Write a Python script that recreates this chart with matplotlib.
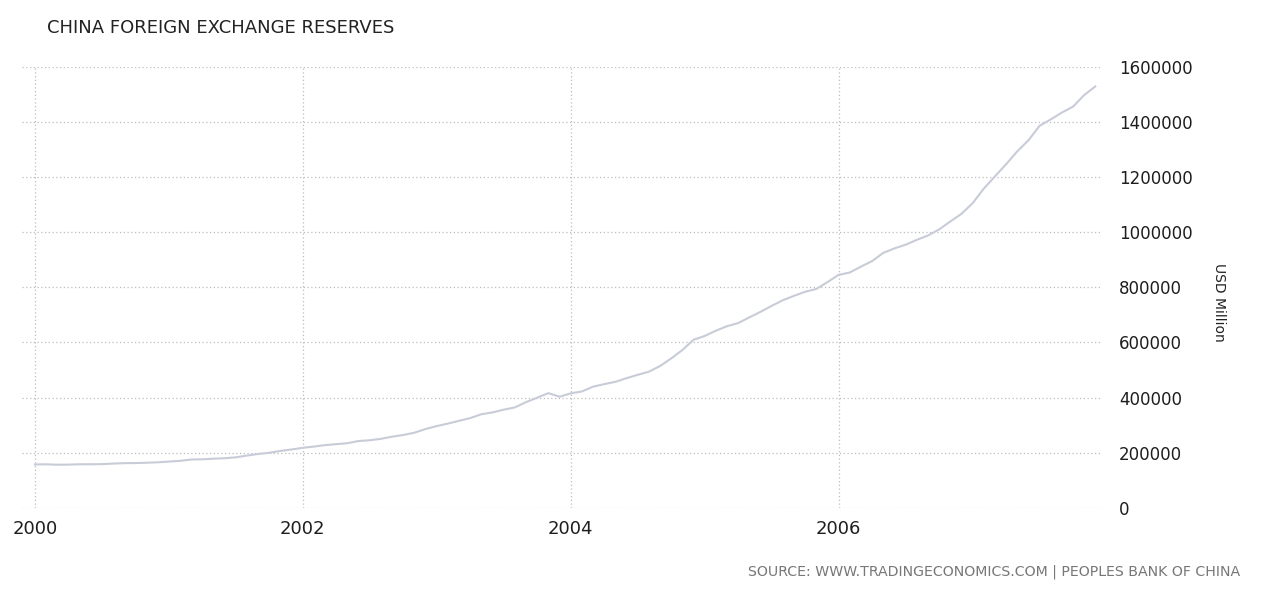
import numpy as np
import matplotlib
matplotlib.use("Agg")
import matplotlib.pyplot as plt

# monthly reserves, USD million, Jan 2000 .. Dec 2007
res_2000 = [157800, 158400, 156800, 157300, 158500, 158600, 159000, 161000, 162500, 163000, 164000, 165600]
res_2001 = [168300, 170900, 175800, 176500, 178800, 180400, 183700, 190100, 195900, 200300, 206900, 212200]
res_2002 = [218300, 222700, 227900, 231400, 234900, 242800, 245600, 250800, 258600, 264600, 273100, 286400]
res_2003 = [297000, 306100, 316200, 326000, 340000, 346500, 356500, 364700, 383900, 400000, 416400, 403300]
res_2004 = [415700, 422500, 439800, 449100, 457400, 470600, 482800, 494100, 514500, 542200, 572600, 609900]
res_2005 = [623600, 642600, 659100, 670300, 691000, 711000, 732700, 753300, 769000, 784000, 794000, 818900]
res_2006 = [845200, 853700, 875100, 895000, 925000, 941100, 954500, 972000, 987900, 1009600, 1038500, 1066300]
res_2007 = [1104700, 1157400, 1202000, 1245900, 1292700, 1332600, 1385200, 1408600, 1433600, 1454900, 1497000, 1528200]

reserves = res_2000 + res_2001 + res_2002 + res_2003 + res_2004 + res_2005 + res_2006 + res_2007
dates = 2000 + np.arange(len(reserves)) / 12.0

x_ticks = [2000, 2002, 2004, 2006]
y_ticks = [0, 200000, 400000, 600000, 800000, 1000000, 1200000, 1400000, 1600000]

fig = plt.figure(figsize=(12.8, 5.9), dpi=100)
ax = fig.add_axes([0.0172, 0.139, 0.842, 0.748])

ax.plot(dates, reserves, color="#c8ccd8", lw=1.5, solid_joinstyle="round")

ax.set_xlim(1999.903, 2007.95)
ax.set_ylim(0, 1600000)
ax.set_xticks(x_ticks)
ax.set_xticklabels([str(t) for t in x_ticks])
ax.set_yticks(y_ticks)
ax.set_yticklabels([str(t) for t in y_ticks])

ax.yaxis.tick_right()
ax.tick_params(axis="y", length=0, pad=14, labelsize=12, labelcolor="#1e1e1e")
ax.tick_params(axis="x", length=0, pad=9, labelsize=13, labelcolor="#1e1e1e")
for lab in ax.get_yticklabels() + ax.get_xticklabels():
    lab.set_fontweight("medium")
for lab in ax.get_yticklabels():
    lab.set_horizontalalignment("left")

ax.grid(True, color="#bdbdbd", linestyle=(0, (1, 2)), linewidth=0.9)
for s in ax.spines.values():
    s.set_visible(False)

fig.text(0.037, 0.953, "CHINA FOREIGN EXCHANGE RESERVES", fontsize=13,
         color="#222222", va="center", ha="left")
fig.text(0.952, 0.488, "USD Million", rotation=-90, fontsize=10,
         color="#222222", va="center", ha="center")
fig.text(0.969, 0.0305, "SOURCE: WWW.TRADINGECONOMICS.COM | PEOPLES BANK OF CHINA",
         fontsize=10.2, color="#777777", va="center", ha="right")

fig.savefig("out.png", dpi=100)
